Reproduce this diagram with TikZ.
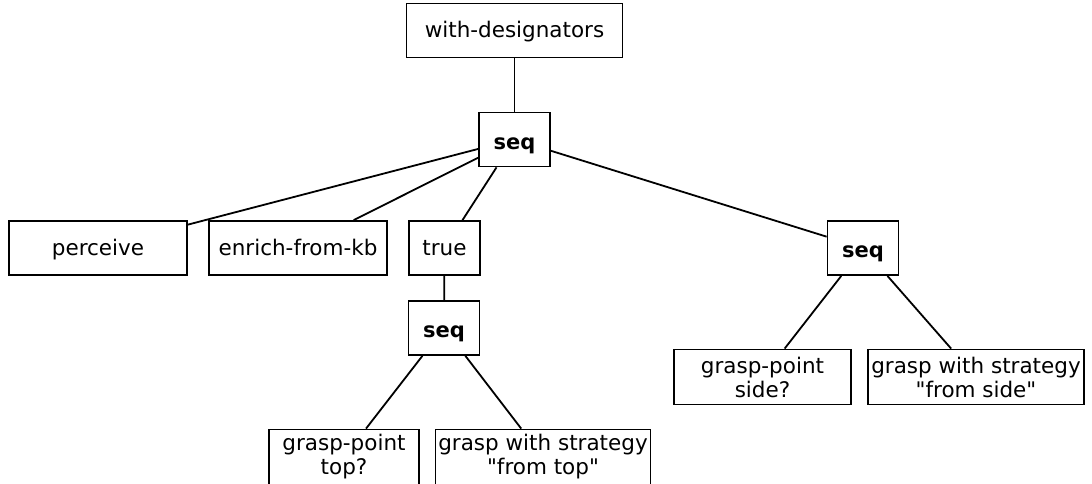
\documentclass[tikz,border=0pt]{standalone}
\usepackage{fontspec}
\setmainfont{DejaVu Sans}[Ligatures=TeXOff]
\begin{document}
\begin{tikzpicture}[x=1pt,y=-1pt,
  base/.style={draw=black,line width=1.8pt,fill=white,inner sep=0pt,
    minimum height=54pt,align=center,font=\fontsize{21.5}{24}\selectfont},
  box/.style={base,text height=17pt,text depth=3pt},
  twoline/.style={base,minimum height=55pt},
  seqbox/.style={base,minimum width=71pt,text height=19.5pt,text depth=0pt,
    font=\fontsize{21}{24}\selectfont\bfseries},
  link/.style={draw=black,line width=1.8pt}]
\useasboundingbox (0,0) rectangle (1092,484);
% tree nodes
\node[box,minimum width=216pt] (wd) at (514.5,30.5) {with-designators};
\node[seqbox] (s0) at (514.5,139.5) {seq};
\node[box,minimum width=178pt] (perceive) at (98,248) {perceive};
\node[box,minimum width=178pt] (enrich) at (298,248) {enrich-from-kb};
\node[box,minimum width=71pt] (true) at (444.5,248) {true};
\node[seqbox] (s2) at (863,248) {seq};
\node[seqbox] (s1) at (444,328) {seq};
\node[twoline,minimum width=150pt] (gpt) at (344,457) {grasp-point\\top?};
\node[twoline,minimum width=215pt] (gwt) at (543,457) {grasp with strategy\\"from top"};
\node[twoline,minimum width=177pt] (gps) at (762.5,377) {grasp-point\\side?};
\node[twoline,minimum width=216pt] (gws) at (976,377) {grasp with strategy\\"from side"};
% connectors
\draw[link] (wd) -- (s0);
\draw[link] (s0) -- (perceive);
\draw[link] (s0) -- (enrich);
\draw[link] (s0) -- (true);
\draw[link] (s0) -- (s2);
\draw[link] (true) -- (s1);
\draw[link] (s1) -- (gpt);
\draw[link] (s1) -- (gwt);
\draw[link] (s2) -- (gps);
\draw[link] (s2) -- (gws);
\end{tikzpicture}
\end{document}
